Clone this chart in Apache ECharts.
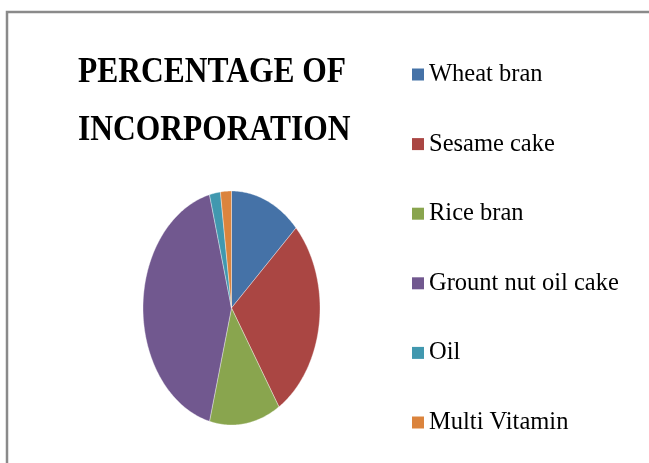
<!DOCTYPE html>
<html>
<head>
<meta charset="utf-8">
<script src="https://cdn.jsdelivr.net/npm/echarts@6/dist/echarts.min.js"></script>
<style>
html,body{margin:0;padding:0;background:#fff;}
#chart{width:649px;height:463px;}
</style>
</head>
<body>
<div id="chart"></div>
<script>
// Data
var categories = ['Wheat bran', 'Sesame cake', 'Rice bran', 'Grount nut oil cake', 'Oil', 'Multi Vitamin'];
var values = [13, 28, 13, 42, 2, 2];
var colors = ['#4572A7', '#AA4643', '#89A54E', '#71588F', '#4198AF', '#DB843D'];
var titleLines = ['PERCENTAGE OF', 'INCORPORATION'];

var total = values.reduce(function (a, b) { return a + b; }, 0);
var cum = 0;
var series = categories.map(function (name, i) {
  var start = cum / total;
  cum += values[i];
  var end = cum / total;
  return {
    type: 'custom',
    name: name,
    coordinateSystem: 'cartesian2d',
    silent: true,
    data: [[start, end]],
    encode: { x: 0, y: 1 },
    renderItem: function (params, api) {
      var s = api.value(0), e = api.value(1);
      var pts = [api.coord([0, 0])];
      var n = Math.max(4, Math.ceil((e - s) * 360));
      for (var k = 0; k <= n; k++) {
        var t = s + (e - s) * k / n;
        var a = 2 * Math.PI * t;
        pts.push(api.coord([Math.sin(a), Math.cos(a)]));
      }
      return {
        type: 'polygon',
        shape: { points: pts },
        style: { fill: api.visual('color'), stroke: 'rgba(255,255,255,0.6)', lineWidth: 0.6 }
      };
    }
  };
});

var chart = echarts.init(document.getElementById('chart'), null, { renderer: 'canvas' });
chart.setOption({
  animation: false,
  backgroundColor: '#fff',
  color: colors,
  grid: { left: 143, top: 191, width: 177, height: 234 },
  xAxis: { type: 'value', min: -1, max: 1, show: false },
  yAxis: { type: 'value', min: -1, max: 1, show: false },
  legend: {
    orient: 'vertical',
    left: 412,
    top: 62,
    padding: 0,
    icon: 'rect',
    itemWidth: 12,
    itemHeight: 12,
    itemGap: 44.6,
    selectedMode: false,
    data: categories,
    textStyle: { fontFamily: 'Liberation Serif', fontSize: 24.5, color: '#000', lineHeight: 24 }
  },
  graphic: [
    {
      type: 'rect',
      shape: { x: 7, y: 12, width: 720, height: 520 },
      style: { fill: 'none', stroke: '#8a8a8a', lineWidth: 2.5 },
      silent: true
    },
    {
      type: 'text',
      x: 78, y: 44,
      scaleY: 1.15,
      style: {
        text: titleLines.join('\n'),
        fontFamily: 'Liberation Serif',
        fontWeight: 'bold',
        fontSize: 31.5,
        lineHeight: 50.5,
        fill: '#000'
      },
      silent: true
    }
  ],
  series: series
});
</script>
</body>
</html>
